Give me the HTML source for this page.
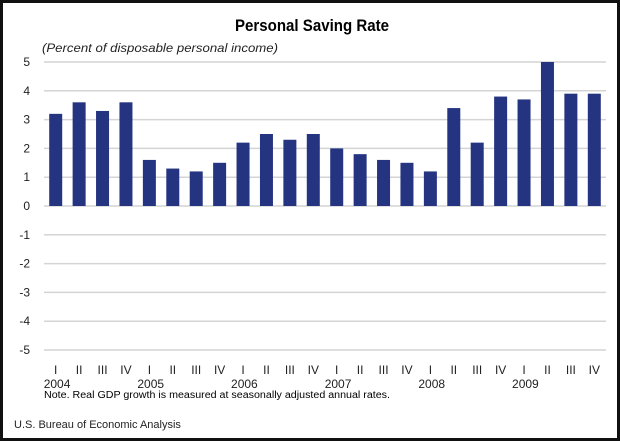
<!DOCTYPE html>
<html><head><meta charset="utf-8"><style>
html,body{margin:0;padding:0;background:#fff}
svg{display:block;font-family:"Liberation Sans",Arial,sans-serif}
</style></head><body>
<svg width="620" height="441">
<rect x="1.5" y="1.5" width="617" height="438" fill="#fff" stroke="#111" stroke-width="3"/>
<text x="312" y="31" text-anchor="middle" font-size="17" font-weight="bold" textLength="154" lengthAdjust="spacingAndGlyphs">Personal Saving Rate</text>
<text x="42" y="52" font-size="12" font-style="italic" fill="#222" textLength="236" lengthAdjust="spacingAndGlyphs">(Percent of disposable personal income)</text>
<g id="grid"></g><g id="bars"></g><g id="xlab"></g>
<text x="44" y="398" font-size="10" textLength="346" lengthAdjust="spacingAndGlyphs">Note.  Real GDP growth is measured at seasonally adjusted annual rates.</text>
<text x="14" y="428" font-size="11" fill="#222">U.S. Bureau of Economic Analysis</text>
</svg>
<script>
const quarters=["I","II","III","IV"];
const years=["2004","2005","2006","2007","2008","2009"];
const values=[3.2,3.6,3.3,3.6,1.6,1.3,1.2,1.5,2.2,2.5,2.3,2.5,2.0,1.8,1.6,1.5,1.2,3.4,2.2,3.8,3.7,5.0,3.9,3.9];
const yTicks=[5,4,3,2,1,0,-1,-2,-3,-4,-5];
const NS="http://www.w3.org/2000/svg";
const x0=44,x1=606,y0v=206,ppu=28.8;
const band=(x1-x0)/values.length;
function y(v){return y0v-v*ppu;}
function xc(i){return x0+band*(i+0.5);}
function mk(t,a,p){const e=document.createElementNS(NS,t);for(const k in a)e.setAttribute(k,a[k]);p.appendChild(e);return e;}
const g=document.getElementById('grid'),b=document.getElementById('bars'),xl=document.getElementById('xlab');
yTicks.forEach(v=>{
 const l=mk('line',{x1:x0,x2:x1,y1:y(v),y2:y(v),stroke:'#d4d4d4','stroke-width':1.5},g);
 
 
 const t=mk('text',{x:30,y:y(v)+4,'text-anchor':'end','font-size':12,fill:'#222'},g);
 t.textContent=v;
 
 
});
values.forEach((v,i)=>{
 const w=13;
 const r=mk('rect',{x:xc(i)-w/2,y:Math.min(y(v),y(0)),width:w,height:Math.abs(y(v)-y(0)),fill:'#253481'},b);
 
 
 const t=mk('text',{x:xc(i),y:374,'text-anchor':'middle','font-size':12,fill:'#222'},xl);
 t.textContent=quarters[i%4];
 
 
});
years.forEach((yr,j)=>{
 const t=mk('text',{x:xc(j*4)-12,y:388,'font-size':12,fill:'#222'},xl);
 t.textContent=yr;
 
 
});
</script>
</body></html>
